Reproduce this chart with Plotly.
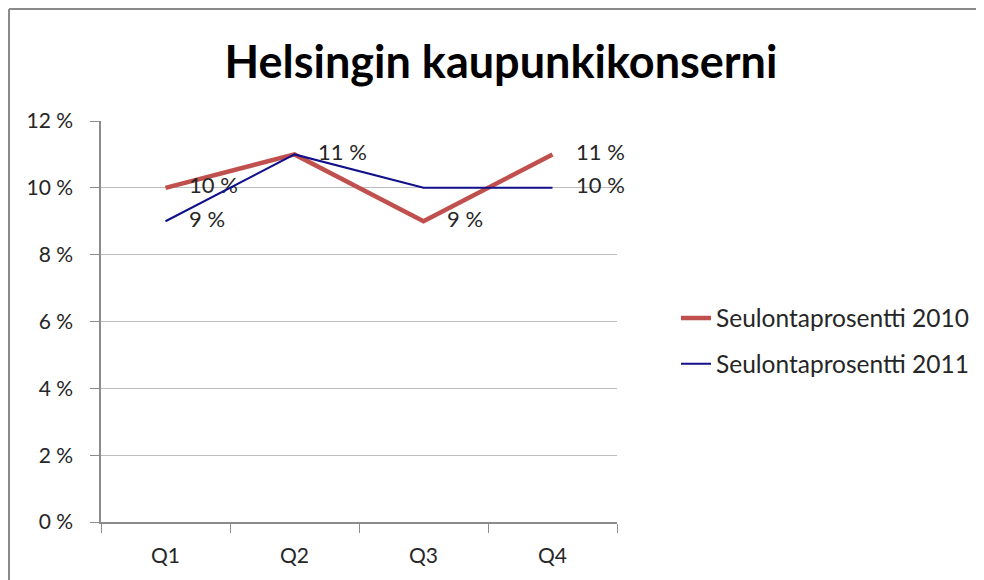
import plotly.graph_objects as go

categories = ["Q1", "Q2", "Q3", "Q4"]
values_2010 = [10, 11, 9, 11]
values_2011 = [9, 11, 10, 10]
labels_2010 = ["10 %", "11 %", "9 %", "11 %"]
labels_2011 = ["9 %", "", "", "10 %"]
series_names = ["Seulontaprosentti 2010", "Seulontaprosentti 2011"]
y_ticks = [0, 2, 4, 6, 8, 10, 12]
y_ticklabels = ["0 %", "2 %", "4 %", "6 %", "8 %", "10 %", "12 %"]

FONT = "Lato"
TXT = "#262626"
CLEAR = "rgba(0,0,0,0)"

# plot area in figure pixels (page has an 8px body margin)
L, R, T, B = 93, 609, 113, 514
W, H = R - L, B - T

fig = go.Figure()
fig.add_trace(go.Scatter(
    x=categories, y=values_2010, mode="lines+markers+text", name=series_names[0],
    line=dict(color="#C0504D", width=4.5),
    marker=dict(size=36, color=CLEAR, line=dict(width=0, color=CLEAR)),
    text=labels_2010, textposition="middle right",
    textfont=dict(family=FONT, size=22, color=TXT),
    cliponaxis=False, legendgroup="a", hoverinfo="x+y",
))
fig.add_trace(go.Scatter(
    x=categories, y=values_2011, mode="lines+markers+text", name=series_names[1],
    line=dict(color="#10108A", width=2),
    marker=dict(size=36, color=CLEAR, line=dict(width=0, color=CLEAR)),
    text=labels_2011, textposition="middle right",
    textfont=dict(family=FONT, size=22, color=TXT),
    cliponaxis=False, legendgroup="b", hoverinfo="x+y",
))

fig.update_layout(
    width=984, height=580,
    margin=dict(l=L, r=984 - R, t=T, b=580 - B),
    paper_bgcolor="white", plot_bgcolor="white",
    title=dict(text="<b>Helsingin kaupunkikonserni</b>", x=493 / 984, xanchor="center",
               y=1 - 54 / 580, yanchor="middle",
               font=dict(family=FONT, size=45, color="black")),
    font=dict(family=FONT, color=TXT),
    legend=dict(x=(668 - L) / W, xanchor="left", y=(B - 333) / H, yanchor="middle",
                font=dict(family=FONT, size=24.5, color=TXT),
                traceorder="grouped", tracegroupgap=11, bgcolor="rgba(0,0,0,0)"),
    xaxis=dict(type="category", range=[-0.5, 3.5], tickson="boundaries",
               showline=True, linecolor="#8C8C8C", linewidth=1.5,
               ticks="outside", ticklen=9, tickcolor="#8C8C8C",
               ticklabelstandoff=14,
               showgrid=False, tickfont=dict(family=FONT, size=21, color=TXT)),
    yaxis=dict(range=[0, 12], tickvals=y_ticks, ticktext=y_ticklabels,
               showline=True, linecolor="#8C8C8C", linewidth=1.5,
               ticks="outside", ticklen=9, tickcolor="#8C8C8C",
               ticklabelstandoff=13,
               showgrid=True, gridcolor="#BDBDBD", gridwidth=1.2,
               zeroline=False, tickfont=dict(family=FONT, size=21, color=TXT)),
    showlegend=True,
)

# outer chart border (top and left edges visible)
fig.add_shape(type="line", xref="paper", yref="paper",
              x0=(1 - L) / W, x1=(984 - L) / W,
              y0=(B - 1) / H, y1=(B - 1) / H,
              line=dict(color="#8A8A8A", width=2))
fig.add_shape(type="line", xref="paper", yref="paper",
              x0=(1 - L) / W, x1=(1 - L) / W,
              y0=(B - 1) / H, y1=(B - 585) / H,
              line=dict(color="#8A8A8A", width=2))

fig.write_html("out.html")
